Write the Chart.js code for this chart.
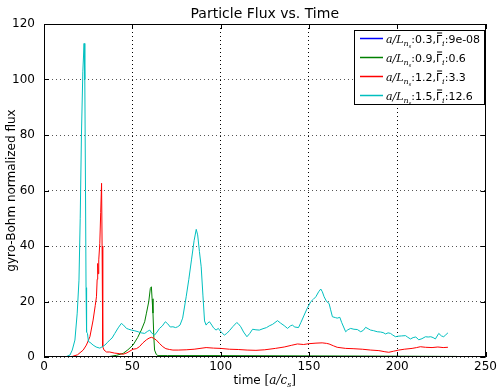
<!DOCTYPE html>
<html>
<head>
<meta charset="utf-8">
<script src="https://cdn.jsdelivr.net/npm/chart.js@4.4.0/dist/chart.umd.min.js"></script>
<style>
html, body { margin: 0; padding: 0; background: #fff; }
</style>
</head>
<body>
<canvas id="plot" width="500" height="387"></canvas>
<script>
// a/L_ns and mean flux values shown in the legend
const aLn = ['0.3', '0.9', '1.2', '1.5']
const gammaMean = ['9e-08', '0.6', '3.3', '12.6']
const colors = ['#0000ff', '#008000', '#ff0000', '#00bfbf']

// time values and fluxes
const blueT = [0, 233.8]
const blueV = [0, 0]

const greenT = [0, 30, 37.2, 41, 44.8, 47.5, 50.4, 53, 55.1, 57, 58, 59.3, 60.2, 60.8, 61.2, 61.7, 62.2, 62.6, 63.6, 64.5, 70, 100, 150, 200, 233.8]
const greenV = [0, 0, 0.2, 0.6, 1.3, 2.6, 4.3, 7, 9.7, 12.7, 15.8, 19.9, 24.7, 25.3, 21, 15.8, 7, 2.5, 0.9, 0.5, 0.5, 0.5, 0.4, 0.3, 0.2]

const redT = [0, 16, 19, 22.2, 24, 26, 27.8, 29, 29.7, 30.1, 30.4, 30.7, 31, 31.6, 32.1, 32.6, 32.9, 33.1, 33.4, 34, 35.4, 37.2, 40, 42.9, 44.8, 47, 50.4, 52.3, 54, 56, 58, 59.5, 60.8, 62, 63.6, 65.5, 67.3, 69, 71.1, 73, 76, 80.5, 85, 91.8, 96, 100, 105, 110, 115, 120, 125, 131, 136, 140, 143.5, 147, 150, 154, 157.5, 160, 161.4, 164, 166, 170.8, 175, 180.2, 185, 189.6, 193, 195.2, 198, 200.9, 204, 208.4, 211, 213.1, 216, 219.7, 223, 226, 228.7]
const redV = [0, 0.2, 0.8, 2.5, 4.3, 7.3, 13.3, 18.5, 21.7, 28, 33.7, 30, 35, 41, 52, 62.6, 40, 12, 3.7, 2.5, 1.8, 1.8, 1.4, 1.2, 1.0, 1.5, 2.8, 3, 3.7, 5.1, 6.2, 6.8, 7.1, 6.8, 6.1, 4.8, 3.7, 3, 2.7, 2.5, 2.5, 2.6, 2.8, 3.4, 3.2, 3.1, 2.8, 2.7, 2.5, 2.4, 2.6, 3.1, 3.6, 4.2, 4.7, 4.5, 4.8, 5, 5.1, 4.9, 4.7, 4, 3.5, 3.1, 3, 2.8, 2.5, 2.3, 1.9, 1.7, 2.1, 2.5, 2.8, 3.1, 3.4, 3.7, 3.5, 3.4, 3.6, 3.4, 3.5]

const cyanT = [0, 12, 14.7, 16, 17.5, 18.8, 19.8, 20.5, 21.2, 22, 22.7, 23.1, 23.5, 23.8, 24.1, 24.6, 25.2, 26, 27.8, 29.5, 31.6, 33, 34.5, 36, 37.2, 38.5, 40.1, 42, 43.8, 45, 46.7, 48, 49.5, 51, 53.3, 55, 57, 58.5, 59.9, 61, 62.6, 64, 65.4, 67, 68.7, 70, 71.5, 73, 74.5, 75.7, 77, 78.5, 80.5, 82, 83.5, 85, 86.2, 87, 88, 89, 90, 90.9, 91.8, 92.6, 93.7, 95, 96, 97.4, 98.7, 100, 102.1, 103.5, 105, 107, 109.1, 110, 111.4, 113, 114.9, 116.5, 118.1, 120, 121.9, 124, 126, 127.5, 129.5, 132.2, 134, 136, 137.9, 139.5, 140.6, 142, 144.1, 145.5, 147.3, 149, 151, 152.5, 153.9, 155.5, 156.7, 157.6, 158.6, 160, 161.4, 162.3, 163.3, 165, 166, 167.5, 168.5, 170.8, 172, 173.6, 175.5, 177.4, 179.3, 180.8, 182.1, 183.5, 184.9, 186.5, 188.7, 190.5, 192, 193.4, 194.8, 196.2, 197.5, 199, 200.5, 202.5, 204.7, 206, 207.5, 209, 210.5, 212.2, 214, 216, 217.5, 219, 220.3, 221.6, 223.5, 225, 226.3, 227.5, 228.7]
const cyanV = [0, 0, 0.7, 2.5, 6.1, 15.8, 27.7, 50, 80, 103, 113, 100, 60, 25, 9, 8.5, 5.5, 5.3, 4.3, 3.6, 3.2, 3.7, 4.3, 5.3, 6.1, 6.8, 8.5, 10.5, 12.1, 11.5, 10.3, 10, 9.7, 9.5, 9.1, 8.7, 8.5, 9.2, 9.7, 8.6, 7.9, 9, 10.3, 11.2, 12.7, 12, 10.8, 10.9, 10.6, 10.9, 11.5, 14, 21.7, 28, 35, 42, 46, 44, 38, 32.5, 22, 13, 11.5, 12.2, 12.7, 11.5, 10.5, 9.7, 10.3, 9.2, 7.9, 8.5, 9.5, 11, 12.4, 12, 10.9, 9, 7.3, 8.5, 10, 9.8, 9.7, 10.2, 10.6, 11.2, 11.8, 13.1, 12.2, 11.3, 10.3, 11.2, 11.5, 10.8, 10.6, 12.5, 15.1, 17.5, 19.9, 20.8, 21.7, 23.5, 24.5, 23.5, 21.7, 20, 19.3, 17, 14.5, 14.2, 14, 14.3, 12.5, 9.1, 9.8, 10.3, 10, 9.9, 9.1, 9.6, 10.7, 10.2, 9.7, 9.5, 9.1, 9, 8.8, 8.3, 8.7, 8.5, 7.9, 7.3, 7.5, 7.6, 7.7, 7.1, 6.5, 7, 7.2, 6.2, 6.6, 7.3, 7.2, 7.3, 7, 6.5, 8.5, 7.6, 7.3, 8, 8.7]

const xTicks = [0, 50, 100, 150, 200, 250]
const yTicks = [0, 20, 40, 60, 80, 100, 120]

function points(ts, vs) {
    return ts.map((t, i) => ({x: t, y: vs[i]}))
}

const SANS = '"DejaVu Sans", sans-serif'
const SERIF = '"DejaVu Serif", serif'

// draws a run of text pieces: [text, font, dy, overbar]
function richText(ctx, x, y, parts, align) {
    let w = 0
    parts.forEach(p => { ctx.font = p[1]; w += ctx.measureText(p[0]).width })
    let cx = align === 'center' ? x - w / 2 : x
    parts.forEach(p => {
        ctx.font = p[1]
        const pw = ctx.measureText(p[0]).width
        ctx.fillText(p[0], cx, y + (p[2] || 0))
        if (p[3]) {
            ctx.fillRect(cx + 1, y - 10, pw - 1, 1)
        }
        cx += pw
    })
}

const decor = {
    id: 'decor',
    afterDraw(chart) {
        const ctx = chart.ctx
        const a = chart.chartArea
        const xs = chart.scales.x
        const ys = chart.scales.y
        ctx.save()
        // spines
        ctx.strokeStyle = '#000'
        ctx.lineWidth = 1
        ctx.strokeRect(Math.round(a.left) + 0.5, Math.round(a.top) + 0.5,
            Math.round(a.right - a.left) - 1, Math.round(a.bottom - a.top) - 1)
        // inward ticks
        ctx.beginPath()
        xTicks.forEach(t => {
            const px = Math.round(xs.getPixelForValue(t)) + 0.5
            ctx.moveTo(px, a.bottom); ctx.lineTo(px, a.bottom - 5)
            ctx.moveTo(px, a.top); ctx.lineTo(px, a.top + 5)
        })
        yTicks.forEach(t => {
            const py = Math.round(ys.getPixelForValue(t)) + 0.5
            ctx.moveTo(a.left, py); ctx.lineTo(a.left + 5, py)
            ctx.moveTo(a.right, py); ctx.lineTo(a.right - 5, py)
        })
        ctx.stroke()

        ctx.fillStyle = '#000'
        ctx.textBaseline = 'alphabetic'
        ctx.textAlign = 'left'
        // title
        richText(ctx, (a.left + a.right) / 2, 18, [['Particle Flux vs. Time', '14px ' + SANS]], 'center')
        // x label
        richText(ctx, (a.left + a.right) / 2, 384, [
            ['time ', '12px ' + SANS],
            ['[', '12px ' + SERIF],
            ['a/c', 'italic 12px ' + SERIF],
            ['s', 'italic 8px ' + SERIF, 3],
            [']', '12px ' + SERIF]
        ], 'center')

        // legend
        const lx = 354, ly = 30, lw = 131, lh = 75
        ctx.fillStyle = '#fff'
        ctx.fillRect(lx, ly, lw, lh)
        ctx.strokeStyle = '#000'
        ctx.strokeRect(lx + 0.5, ly + 0.5, lw - 1, lh - 1)
        aLn.forEach((v, i) => {
            const cy = 38.5 + i * 19
            ctx.strokeStyle = colors[i]
            ctx.lineWidth = 1.5
            ctx.beginPath()
            ctx.moveTo(360, cy); ctx.lineTo(383, cy)
            ctx.stroke()
            ctx.fillStyle = '#000'
            richText(ctx, 386, cy + 4, [
                ['a/L', 'italic 11px ' + SERIF],
                ['n', 'italic 8px ' + SERIF, 3],
                ['s', 'italic 5px ' + SERIF, 5],
                [':' + v + ',', '11px ' + SANS],
                ['Γ', '11px ' + SANS, 0, true],
                ['i', 'italic 8px ' + SERIF, 3],
                [':' + gammaMean[i], '11px ' + SANS]
            ], 'left')
        })
        ctx.restore()
    }
}

const series = [
    [blueT, blueV], [greenT, greenV], [redT, redV], [cyanT, cyanV]
]

const config = {
    type: 'line',
    data: {
        datasets: series.map((s, i) => ({
            data: points(s[0], s[1]),
            borderColor: colors[i],
            backgroundColor: colors[i],
            borderWidth: 1,
            pointRadius: 0,
            tension: 0,
            fill: false,
            order: 4 - i
        }))
    },
    options: {
        responsive: false,
        animation: false,
        devicePixelRatio: 1,
        layout: { padding: { top: 24, right: 13, left: 0, bottom: 0 } },
        plugins: {
            legend: { display: false },
            title: { display: false },
            tooltip: { enabled: false }
        },
        scales: {
            x: {
                type: 'linear',
                min: 0, max: 250,
                afterFit: axis => { axis.height = 30 },
                afterBuildTicks: axis => { axis.ticks = xTicks.map(v => ({value: v})) },
                border: { display: false, dash: [1, 3] },
                grid: { color: '#000', lineWidth: 1, drawTicks: false },
                ticks: { color: '#000', font: { family: 'DejaVu Sans', size: 12 }, padding: 3, maxRotation: 0 },
                title: { display: false }
            },
            y: {
                min: 0, max: 120,
                afterFit: axis => { axis.width = 44 },
                afterBuildTicks: axis => { axis.ticks = yTicks.map(v => ({value: v})) },
                border: { display: false, dash: [1, 3] },
                grid: { color: '#555', lineWidth: 1, drawTicks: false },
                ticks: { color: '#000', font: { family: 'DejaVu Sans', size: 12 }, padding: 9 },
                title: {
                    display: true,
                    text: 'gyro-Bohm normalized flux',
                    color: '#000',
                    font: { family: 'DejaVu Sans', size: 12 },
                    padding: { top: 5, bottom: 0 }
                }
            }
        }
    },
    plugins: [decor]
}

myChart = new Chart(document.getElementById('plot'), config)
</script>
</body>
</html>
